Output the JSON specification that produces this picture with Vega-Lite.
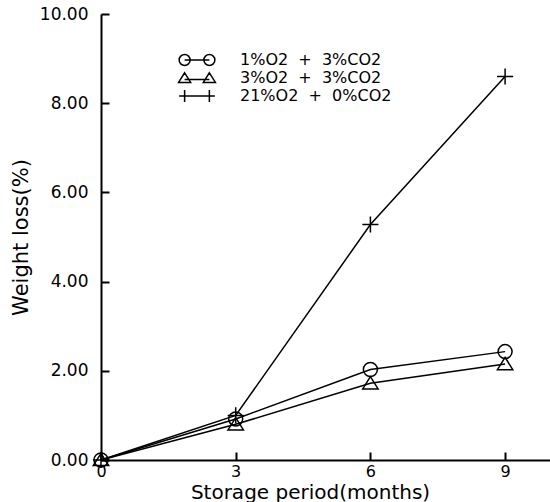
{
  "$schema": "https://vega.github.io/schema/vega-lite/v6.json",
  "width": 449,
  "height": 446,
  "autosize": "none",
  "padding": {"left": 101, "top": 14, "right": 0, "bottom": 42},
  "background": "white",
  "config": {
    "view": {"stroke": null},
    "font": "DejaVu Sans",
    "axis": {
      "domainColor": "black",
      "domainWidth": 2,
      "tickColor": "black",
      "tickWidth": 2,
      "tickSize": -8,
      "labelColor": "black",
      "labelFontSize": 17,
      "titleColor": "black",
      "titleFontSize": 21,
      "titleFontWeight": "normal",
      "grid": false
    }
  },
  "data": {
    "values": [
      {"month": 0, "loss": 0.0, "series": "1%O2 + 3%CO2"},
      {"month": 3, "loss": 0.92, "series": "1%O2 + 3%CO2"},
      {"month": 6, "loss": 2.03, "series": "1%O2 + 3%CO2"},
      {"month": 9, "loss": 2.43, "series": "1%O2 + 3%CO2"},
      {"month": 0, "loss": 0.0, "series": "3%O2 + 3%CO2"},
      {"month": 3, "loss": 0.8, "series": "3%O2 + 3%CO2"},
      {"month": 6, "loss": 1.72, "series": "3%O2 + 3%CO2"},
      {"month": 9, "loss": 2.15, "series": "3%O2 + 3%CO2"},
      {"month": 0, "loss": 0.0, "series": "21%O2 + 0%CO2"},
      {"month": 3, "loss": 1.0, "series": "21%O2 + 0%CO2"},
      {"month": 6, "loss": 5.28, "series": "21%O2 + 0%CO2"},
      {"month": 9, "loss": 8.6, "series": "21%O2 + 0%CO2"}
    ]
  },
  "encoding": {
    "x": {
      "field": "month",
      "type": "quantitative",
      "scale": {"domain": [0, 10], "nice": false, "zero": false},
      "axis": {
        "values": [0, 3, 6, 9],
        "format": "d",
        "labelFontSize": 16,
        "labelPadding": 11,
        "title": "Storage period(months)",
        "titleFontSize": 20,
        "titleX": 209,
        "titleY": 38,
        "titleBaseline": "alphabetic",
        "labelFlush": false
      }
    },
    "y": {
      "field": "loss",
      "type": "quantitative",
      "scale": {"domain": [0, 10], "nice": false},
      "axis": {
        "values": [0, 2, 4, 6, 8, 10],
        "format": ".2f",
        "labelPadding": 21,
        "title": "Weight loss(%)",
        "titlePadding": 8,
        "labelFlush": false
      }
    }
  },
  "layer": [
    {
      "mark": {"type": "line", "color": "black", "strokeWidth": 1.5},
      "encoding": {"detail": {"field": "series"}}
    },
    {
      "mark": {"type": "point", "filled": false, "color": "black", "strokeWidth": 1.5, "size": 196, "opacity": 1},
      "encoding": {
        "shape": {
          "field": "series",
          "type": "nominal",
          "scale": {
            "domain": ["1%O2 + 3%CO2", "3%O2 + 3%CO2", "21%O2 + 0%CO2"],
            "range": [
              "M-1,0A1,1 0 1,1 1,0A1,1 0 1,1 -1,0Z",
              "M0,-0.95L1.1,0.8L-1.1,0.8Z",
              "M-1.15,0L1.15,0M0,-1.15L0,1.15"
            ]
          },
          "legend": null
        }
      }
    },
    {
      "transform": [{"filter": "datum.month < 0"}],
      "mark": {"type": "point", "filled": false, "color": "black", "strokeWidth": 1.5, "size": 121, "opacity": 1},
      "encoding": {
        "shape": {
          "field": "series",
          "type": "nominal",
          "scale": {
            "domain": ["1%O2 + 3%CO2", "3%O2 + 3%CO2", "21%O2 + 0%CO2"],
            "range": [
              "M-3.25,0A1,1 0 1,1 -1.25,0A1,1 0 1,1 -3.25,0M1.25,0A1,1 0 1,1 3.25,0A1,1 0 1,1 1.25,0M-2.25,0L2.25,0",
              "M-2.25,-0.95L-1.15,0.8L-3.35,0.8ZM2.25,-0.95L3.35,0.8L1.15,0.8ZM-2.25,0.25L2.25,0.25",
              "M-3.25,0L3.25,0M-2.25,-1.1L-2.25,1.1M2.25,-1.1L2.25,1.1"
            ]
          },
          "legend": {
            "title": null,
            "orient": "none",
            "legendX": 88,
            "legendY": 38,
            "symbolSize": 121,
            "symbolStrokeWidth": 1.5,
            "symbolStrokeColor": "black",
            "symbolFillColor": "transparent",
            "labelOffset": 35,
            "labelFontSize": 16,
            "labelLimit": 400,
            "labelColor": "black",
            "rowPadding": 0,
            "labelExpr": "datum.value == '1%O2 + 3%CO2' ? '\u00a0\u00a01%O2\u00a0\u00a0+\u00a0\u00a03%CO2' : datum.value == '3%O2 + 3%CO2' ? '\u00a0\u00a03%O2\u00a0\u00a0+\u00a0\u00a03%CO2' : '21%O2\u00a0\u00a0+\u00a0\u00a00%CO2'"
          }
        }
      }
    }
  ],
  "resolve": {"scale": {"shape": "independent"}, "legend": {"shape": "independent"}}
}
